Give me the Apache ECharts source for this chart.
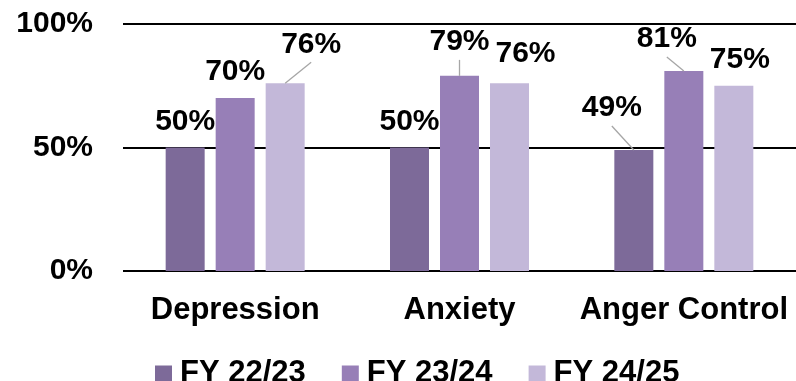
<!DOCTYPE html>
<html>
<head>
<meta charset="utf-8">
<script src="https://cdn.jsdelivr.net/npm/echarts@6/dist/echarts.min.js"></script>
<style>
  html, body { margin: 0; padding: 0; background: #fff; }
  #chart { width: 796px; height: 381px; }
</style>
</head>
<body>
<div id="chart"></div>
<script>
// Categories and yearly percentages
const categories = ['Depression', 'Anxiety', 'Anger Control'];
const seriesNames = ['FY 22/23', 'FY 23/24', 'FY 24/25'];
const fy2223 = [50, 50, 49];
const fy2324 = [70, 79, 81];
const fy2425 = [76, 76, 75];
const yTicks = [0, 50, 100];

const values = [fy2223, fy2324, fy2425];
const colors = ['#7d6a99', '#977fb7', '#c3b8d9'];

// Bar geometry inside each category group
const BAR_W = 39;
const BAR_GAP = 11;

// Manual nudges for labels that would otherwise collide: [series][category] -> [dx, dy, leader]
const labelNudge = [
  [[0, 0, false], [0, 0, false], [-22, -16, true]],
  [[0, 0, false], [0, -8, true], [-17, -6, true]],
  [[26, -13, true], [16, -4, false], [6, 0, false]]
];

const FONT = '"Liberation Sans", Arial, sans-serif';
const LABEL_DIST = 11;

const chart = echarts.init(document.getElementById('chart'), null, { renderer: 'canvas' });

const barSeries = values.map((vals, s) => ({
  name: seriesNames[s],
  type: 'bar',
  data: vals,
  barWidth: BAR_W,
  barGap: (BAR_GAP / BAR_W * 100) + '%',
  itemStyle: { color: colors[s] },
  label: {
    show: true,
    position: 'top',
    distance: LABEL_DIST,
    formatter: '{c}%',
    fontFamily: FONT,
    fontWeight: 'bold',
    fontSize: 30,
    color: '#000'
  },
  labelLayout: (params) => {
    const n = labelNudge[s][params.dataIndex];
    return { dx: n[0], dy: n[1] };
  }
}));

// Leader lines joining the nudged labels to their bar tops
const leaderData = [];
values.forEach((vals, s) => {
  vals.forEach((v, c) => {
    const n = labelNudge[s][c];
    if (n[2]) leaderData.push([c, v, s, n[0], n[1]]);
  });
});

const leaderSeries = {
  type: 'custom',
  silent: true,
  z: 5,
  data: leaderData,
  renderItem: (params, api) => {
    const top = api.coord([api.value(0), api.value(1)]);
    const offset = (api.value(2) - 1) * (BAR_W + BAR_GAP);
    const bx = top[0] + offset;
    const by = top[1];
    return {
      type: 'line',
      shape: {
        x1: bx + api.value(3),
        y1: by - LABEL_DIST + 3 + api.value(4),
        x2: bx,
        y2: by
      },
      style: { stroke: '#a6a6a6', lineWidth: 1.3 }
    };
  }
};

chart.setOption({
  animation: false,
  backgroundColor: '#fff',
  color: colors,
  grid: { left: 123, right: -5, top: 24, bottom: 110, containLabel: false },
  legend: {
    data: seriesNames,
    left: 150,
    top: 353,
    icon: 'rect',
    itemWidth: 17,
    itemHeight: 16,
    itemGap: 36,
    textStyle: {
      fontFamily: FONT,
      fontWeight: 'bold',
      fontSize: 31,
      color: '#000',
      padding: [0, 0, 0, 3]
    }
  },
  xAxis: {
    type: 'category',
    data: categories,
    axisLine: { show: false },
    axisTick: { show: false },
    axisLabel: {
      interval: 0,
      margin: 24,
      fontFamily: FONT,
      fontWeight: 'bold',
      fontSize: 31,
      color: '#000'
    }
  },
  yAxis: {
    type: 'value',
    min: yTicks[0],
    max: yTicks[yTicks.length - 1],
    interval: yTicks[1] - yTicks[0],
    axisLine: { show: false },
    axisTick: { show: false },
    splitLine: { lineStyle: { color: '#000', width: 2 } },
    axisLabel: {
      margin: 30,
      formatter: '{value}%',
      fontFamily: FONT,
      fontWeight: 'bold',
      fontSize: 30,
      color: '#000'
    }
  },
  series: barSeries.concat([leaderSeries])
});
</script>
</body>
</html>
